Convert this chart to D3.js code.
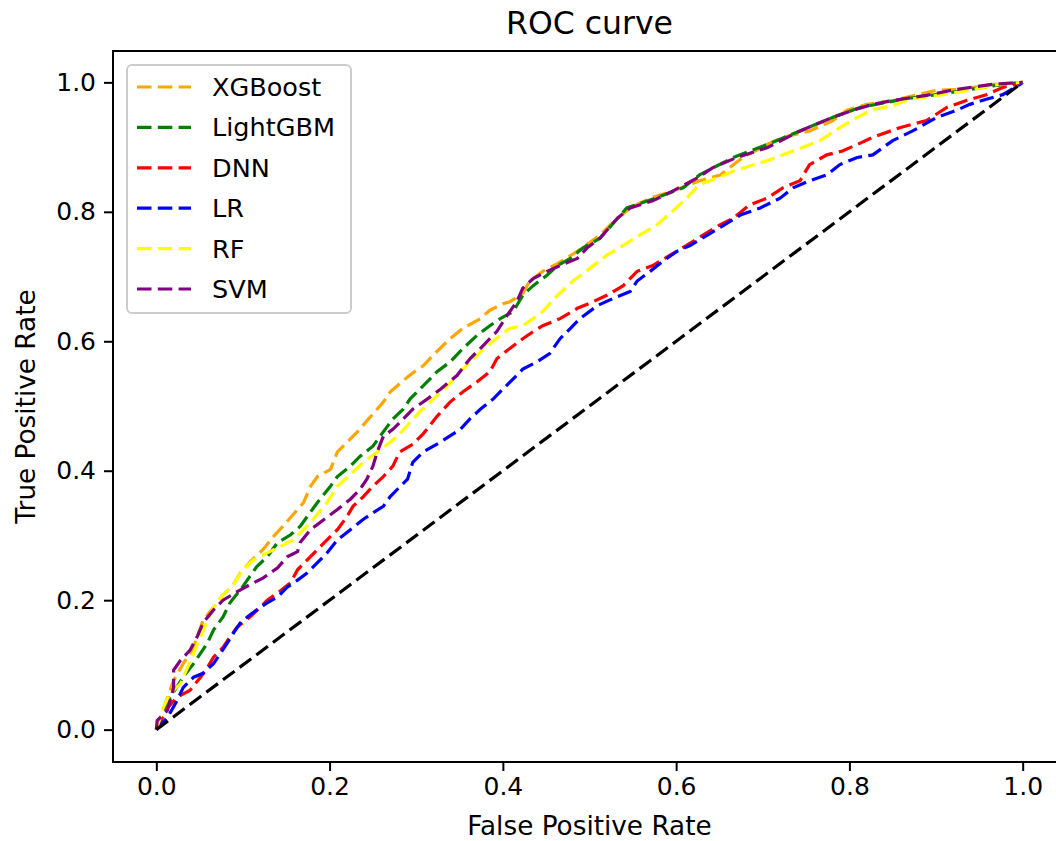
<!DOCTYPE html>
<html>
<head>
<meta charset="utf-8">
<script src="https://cdn.jsdelivr.net/npm/d3@7.9.0/dist/d3.min.js"></script>
<style>
  html, body { margin: 0; padding: 0; background: #fff; }
  svg { display: block; font-family: "DejaVu Sans", sans-serif; }
</style>
</head>
<body>
<div id="chart"></div>
<script>
// ROC points, [fpr, tpr]
const xgboost = [[0,0],[0.013,0.050],[0.020,0.076],[0.031,0.102],[0.043,0.127],[0.054,0.169],[0.066,0.189],[0.077,0.208],[0.089,0.224],[0.097,0.242],[0.108,0.259],[0.123,0.278],[0.135,0.298],[0.146,0.314],[0.170,0.351],[0.178,0.376],[0.186,0.391],[0.201,0.402],[0.209,0.429],[0.220,0.444],[0.232,0.460],[0.243,0.477],[0.262,0.506],[0.270,0.522],[0.278,0.531],[0.290,0.545],[0.299,0.554],[0.308,0.562],[0.319,0.578],[0.339,0.604],[0.354,0.620],[0.374,0.635],[0.385,0.648],[0.400,0.658],[0.408,0.661],[0.423,0.674],[0.431,0.693],[0.446,0.708],[0.463,0.720],[0.486,0.739],[0.512,0.764],[0.532,0.790],[0.547,0.806],[0.570,0.821],[0.596,0.832],[0.627,0.848],[0.651,0.857],[0.677,0.884],[0.705,0.904],[0.723,0.915],[0.754,0.925],[0.781,0.941],[0.797,0.957],[0.820,0.966],[0.850,0.972],[0.901,0.988],[0.927,0.989],[0.965,0.997],[1,1]];
const lightgbm = [[0,0],[0.016,0.050],[0.031,0.081],[0.043,0.102],[0.059,0.134],[0.066,0.154],[0.077,0.174],[0.085,0.196],[0.097,0.216],[0.105,0.231],[0.116,0.252],[0.128,0.267],[0.140,0.289],[0.155,0.301],[0.166,0.314],[0.186,0.351],[0.201,0.376],[0.209,0.391],[0.224,0.407],[0.235,0.422],[0.250,0.438],[0.262,0.460],[0.273,0.480],[0.285,0.495],[0.293,0.511],[0.308,0.531],[0.324,0.553],[0.339,0.568],[0.354,0.589],[0.370,0.609],[0.385,0.624],[0.397,0.635],[0.412,0.646],[0.423,0.671],[0.435,0.686],[0.451,0.702],[0.463,0.717],[0.478,0.728],[0.492,0.744],[0.512,0.759],[0.543,0.806],[0.576,0.821],[0.608,0.837],[0.627,0.857],[0.666,0.884],[0.705,0.904],[0.743,0.925],[0.781,0.946],[0.812,0.961],[0.862,0.974],[0.916,0.984],[0.962,0.994],[1,1]];
const dnn = [[0,0],[0.013,0.034],[0.024,0.050],[0.039,0.061],[0.051,0.081],[0.059,0.096],[0.066,0.112],[0.077,0.127],[0.085,0.143],[0.093,0.158],[0.108,0.174],[0.120,0.189],[0.128,0.200],[0.140,0.211],[0.155,0.227],[0.163,0.247],[0.174,0.262],[0.186,0.278],[0.197,0.293],[0.209,0.309],[0.220,0.329],[0.227,0.345],[0.239,0.360],[0.250,0.376],[0.262,0.391],[0.273,0.407],[0.281,0.429],[0.296,0.441],[0.308,0.457],[0.324,0.484],[0.339,0.506],[0.354,0.522],[0.370,0.537],[0.385,0.553],[0.393,0.573],[0.408,0.589],[0.423,0.604],[0.435,0.615],[0.446,0.624],[0.466,0.635],[0.486,0.651],[0.504,0.661],[0.520,0.671],[0.539,0.686],[0.555,0.708],[0.573,0.717],[0.593,0.733],[0.612,0.748],[0.631,0.764],[0.651,0.780],[0.666,0.790],[0.685,0.811],[0.705,0.821],[0.723,0.837],[0.743,0.848],[0.754,0.873],[0.774,0.888],[0.792,0.894],[0.809,0.904],[0.827,0.915],[0.858,0.930],[0.889,0.941],[0.912,0.961],[0.935,0.972],[0.958,0.981],[0.977,0.992],[1,1]];
const lr = [[0,0],[0.013,0.019],[0.024,0.045],[0.031,0.065],[0.043,0.081],[0.054,0.087],[0.066,0.102],[0.082,0.134],[0.089,0.149],[0.097,0.165],[0.105,0.174],[0.116,0.185],[0.128,0.196],[0.140,0.205],[0.151,0.220],[0.163,0.231],[0.174,0.242],[0.186,0.258],[0.197,0.273],[0.209,0.293],[0.224,0.309],[0.239,0.325],[0.250,0.335],[0.262,0.345],[0.270,0.360],[0.278,0.371],[0.290,0.387],[0.296,0.413],[0.308,0.429],[0.324,0.441],[0.351,0.464],[0.362,0.480],[0.374,0.495],[0.389,0.511],[0.400,0.526],[0.412,0.542],[0.423,0.557],[0.439,0.568],[0.454,0.581],[0.466,0.604],[0.478,0.620],[0.489,0.635],[0.509,0.655],[0.527,0.666],[0.547,0.677],[0.555,0.693],[0.570,0.708],[0.585,0.724],[0.601,0.739],[0.616,0.748],[0.636,0.764],[0.651,0.776],[0.674,0.795],[0.697,0.806],[0.720,0.821],[0.735,0.837],[0.754,0.848],[0.774,0.857],[0.789,0.873],[0.809,0.884],[0.827,0.888],[0.850,0.910],[0.873,0.925],[0.901,0.946],[0.924,0.957],[0.939,0.966],[0.958,0.974],[0.977,0.981],[0.997,0.997],[1,1]];
const rf = [[0,0],[0.008,0.034],[0.016,0.056],[0.028,0.071],[0.036,0.096],[0.043,0.118],[0.051,0.143],[0.059,0.169],[0.066,0.189],[0.077,0.208],[0.089,0.224],[0.100,0.247],[0.112,0.262],[0.128,0.273],[0.143,0.283],[0.158,0.293],[0.178,0.320],[0.197,0.351],[0.209,0.376],[0.227,0.398],[0.239,0.413],[0.255,0.429],[0.270,0.444],[0.281,0.457],[0.293,0.475],[0.304,0.491],[0.316,0.506],[0.336,0.531],[0.351,0.553],[0.366,0.573],[0.382,0.593],[0.397,0.609],[0.408,0.620],[0.423,0.624],[0.435,0.635],[0.446,0.646],[0.463,0.671],[0.481,0.693],[0.501,0.713],[0.520,0.733],[0.539,0.748],[0.558,0.764],[0.578,0.780],[0.596,0.801],[0.612,0.821],[0.627,0.842],[0.647,0.852],[0.666,0.863],[0.705,0.879],[0.735,0.894],[0.766,0.910],[0.789,0.930],[0.809,0.946],[0.827,0.958],[0.850,0.964],[0.870,0.974],[0.908,0.981],[0.939,0.988],[0.973,0.997],[1,1]];
const svm = [[0,0],[0.001,0.014],[0.013,0.030],[0.020,0.065],[0.020,0.092],[0.028,0.107],[0.039,0.123],[0.047,0.143],[0.054,0.165],[0.066,0.185],[0.077,0.200],[0.093,0.213],[0.108,0.224],[0.123,0.234],[0.140,0.250],[0.151,0.267],[0.163,0.275],[0.166,0.289],[0.178,0.309],[0.189,0.320],[0.209,0.340],[0.224,0.356],[0.235,0.371],[0.243,0.387],[0.250,0.407],[0.255,0.429],[0.262,0.453],[0.273,0.464],[0.285,0.480],[0.296,0.495],[0.313,0.511],[0.328,0.526],[0.347,0.547],[0.362,0.573],[0.377,0.593],[0.393,0.615],[0.405,0.640],[0.416,0.661],[0.423,0.682],[0.435,0.697],[0.451,0.708],[0.466,0.717],[0.486,0.728],[0.497,0.744],[0.512,0.759],[0.532,0.790],[0.547,0.806],[0.573,0.817],[0.596,0.832],[0.624,0.852],[0.642,0.868],[0.670,0.884],[0.705,0.899],[0.743,0.925],[0.781,0.946],[0.804,0.957],[0.827,0.966],[0.850,0.972],[0.889,0.980],[0.919,0.988],[0.939,0.992],[0.965,0.997],[1,1]];
const chance = [[0,0],[1,1]];

const seriesNames = ["XGBoost", "LightGBM", "DNN", "LR", "RF", "SVM"];
const seriesData = [xgboost, lightgbm, dnn, lr, rf, svm];
const seriesColors = ["orange", "green", "red", "blue", "yellow", "purple"];
const ticks = [0, 0.2, 0.4, 0.6, 0.8, 1.0];

const width = 1056;
const height = 841;
// axes box (x domain runs past the right edge, as in the picture)
const axLeft = 113, axTop = 51, axBottom = 762, axRight = 1066;

const x = d3.scaleLinear().domain([-0.05, 1.05]).range([axLeft, axRight]);
const y = d3.scaleLinear().domain([-0.05, 1.05]).range([axBottom, axTop - 1]);

const svg = d3.select("#chart").append("svg")
  .attr("width", width)
  .attr("height", height);

svg.append("defs").append("clipPath").attr("id", "plotclip")
  .append("rect")
  .attr("x", axLeft).attr("y", axTop)
  .attr("width", axRight - axLeft).attr("height", axBottom - axTop);

const line = d3.line().x(d => x(d[0])).y(d => y(d[1]));

const plot = svg.append("g").attr("clip-path", "url(#plotclip)");

seriesData.forEach((data, i) => {
  plot.append("path")
    .datum(data)
    .attr("d", line)
    .attr("fill", "none")
    .attr("stroke", seriesColors[i])
    .attr("stroke-width", 3.2)
    .attr("stroke-dasharray", "14.5,6.3");
});

// chance line
plot.append("path")
  .datum(chance)
  .attr("d", line)
  .attr("fill", "none")
  .attr("stroke", "black")
  .attr("stroke-width", 3.2)
  .attr("stroke-dasharray", "14.5,6.3");

// axes
const fmt = d3.format(".1f");
const xAxis = svg.append("g")
  .attr("transform", `translate(0,${axBottom})`)
  .call(d3.axisBottom(x).tickValues(ticks).tickFormat(fmt).tickSize(9).tickPadding(6));
const yAxis = svg.append("g")
  .attr("transform", `translate(${axLeft},0)`)
  .call(d3.axisLeft(y).tickValues(ticks).tickFormat(fmt).tickSize(9).tickPadding(8));

[xAxis, yAxis].forEach(g => {
  g.select(".domain").remove();
  g.selectAll(".tick line").attr("stroke", "#000").attr("stroke-width", 2);
  g.selectAll(".tick text").attr("font-size", 25).attr("fill", "#000")
    .attr("font-family", "DejaVu Sans");
});

// frame
svg.append("rect")
  .attr("x", axLeft).attr("y", axTop)
  .attr("width", axRight - axLeft).attr("height", axBottom - axTop)
  .attr("fill", "none")
  .attr("stroke", "#000")
  .attr("stroke-width", 2);

// title and axis labels
svg.append("text")
  .attr("x", (axLeft + axRight) / 2).attr("y", 34)
  .attr("text-anchor", "middle")
  .attr("font-size", 31.5)
  .text("ROC curve");

svg.append("text")
  .attr("x", (axLeft + axRight) / 2).attr("y", 835)
  .attr("text-anchor", "middle")
  .attr("font-size", 26.3)
  .text("False Positive Rate");

svg.append("text")
  .attr("transform", `translate(35,${(axTop + axBottom) / 2}) rotate(-90)`)
  .attr("text-anchor", "middle")
  .attr("font-size", 26.3)
  .text("True Positive Rate");

// legend
const legend = svg.append("g").attr("transform", "translate(127,65)");
legend.append("rect")
  .attr("width", 224).attr("height", 248)
  .attr("rx", 5)
  .attr("fill", "#fff").attr("fill-opacity", 0.8)
  .attr("stroke", "#ccc").attr("stroke-width", 2);

seriesNames.forEach((name, i) => {
  const ly = 22 + i * 40.4;
  legend.append("line")
    .attr("x1", 10).attr("x2", 64)
    .attr("y1", ly).attr("y2", ly)
    .attr("stroke", seriesColors[i])
    .attr("stroke-width", 3.2)
    .attr("stroke-dasharray", "14.5,6.3");
  legend.append("text")
    .attr("x", 85).attr("y", ly)
    .attr("dy", "0.35em")
    .attr("font-size", 25.5)
    .text(name);
});
</script>
</body>
</html>
